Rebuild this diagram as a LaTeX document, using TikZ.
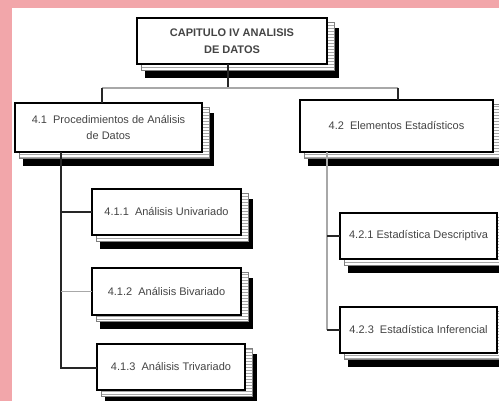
\documentclass[tikz,border=0pt]{standalone}
\usepackage{fontspec}
\setmainfont{Liberation Sans}
\usetikzlibrary{patterns,calc}
\definecolor{bgpink}{HTML}{F2A6AA}
\definecolor{txtgray}{HTML}{444444}
\definecolor{linegray}{HTML}{A8A8A8}
\newcommand{\mybox}[6]{%
  \fill[black] (#2+8,#3+10) rectangle (#4+12,#5+14);
  \fill[white] (#2+4,#3+4) rectangle (#4+7,#5+6);
  \fill[pattern=horizontal lines, pattern color=gray!70] (#2+4,#3+4) rectangle (#4+7,#5+6);
  \draw[gray, line width=0.8pt] (#2+4,#3+4) rectangle (#4+7,#5+6);
  \node[boxst, minimum width={(#4-#2)*1pt}, minimum height={(#5-#3)*1pt}] (#1) at ({(#2+#4)/2},{(#3+#5)/2}) {#6};
}
\tikzset{
  x=1pt, y=-1pt,
  boxst/.style={draw=black, line width=1.2pt, fill=white, inner sep=0pt, outer sep=0pt,
    align=center, text=txtgray, font=\fontsize{11}{16}\selectfont},
  dark/.style={draw=black!85, line width=1.2pt},
  light/.style={draw=linegray, line width=1.2pt}
}
\begin{document}
\begin{tikzpicture}
\useasboundingbox (0,0) rectangle (499,401);
\fill[bgpink] (0,0) rectangle (499,401);
\fill[white] (12,8) rectangle (499,401);

\mybox{top}{137}{18}{327}{64}{\textbf{CAPITULO IV ANALISIS}\\[1pt]\textbf{DE DATOS}}
\mybox{b41}{15}{103}{202}{152}{4.1\ \ Procedimientos de Análisis\\de Datos}
\mybox{b42}{300}{100}{493}{152}{4.2\ \ Elementos Estadísticos}
\mybox{b411}{92}{189}{241}{235}{4.1.1\ \ Análisis Univariado}
\mybox{b412}{92}{268}{241}{315}{4.1.2\ \ Análisis Bivariado}
\mybox{b413}{97}{344}{245}{390}{4.1.3\ \ Análisis Trivariado}
\mybox{b421}{340}{213}{497}{259}{4.2.1 Estadística Descriptiva}
\mybox{b423}{340}{307}{497}{353}{4.2.3\ \ Estadística Inferencial}

% top level connectors
\coordinate (jt) at (228,88);
\coordinate (jl) at (102,88);
\coordinate (jr) at (398,88);
\draw[dark] (top.south -| jt) -- (jt);
\draw[light] (jl) -- (jr);
\draw[dark] (jl) -- (jl |- b41.north);
\draw[dark] (jr) -- (jr |- b42.north);

% left tree
\coordinate (lv) at (61,152);
\coordinate (lb) at (61,368);
\draw[dark] (lv) -- (lb) -- (lb -| b413.west);
\draw[dark] (lv |- b411.west) -- (b411.west);
\draw[linegray, line width=1pt] (lv |- b412.west) -- (b412.west);

% right tree
\coordinate (rv) at (327,152);
\coordinate (rb) at (327,330);
\draw[linegray, line width=1.2pt] (rv) -- (rb);
\draw[dark] (rv |- b421.west) -- (b421.west);
\draw[dark] (rb) -- (rb -| b423.west);
\end{tikzpicture}
\end{document}
